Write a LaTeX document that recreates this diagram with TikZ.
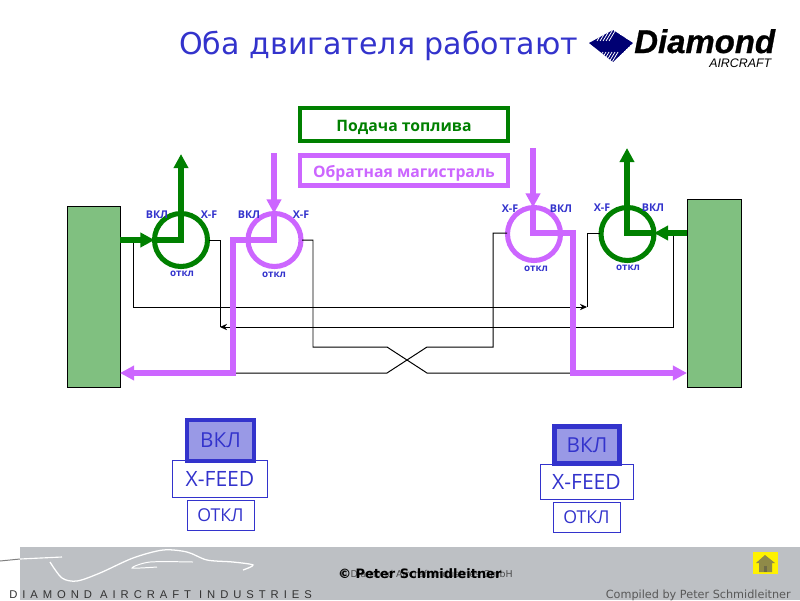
\documentclass[tikz,border=0pt]{standalone}
\usepackage{fontspec}
\setmainfont{Open Sans}
\newfontfamily\titlefont{DejaVu Sans}
\newfontfamily\logofont{Liberation Sans}
\newfontfamily\logoheavy[BoldItalicFeatures={FakeBold=0.8}]{Liberation Sans}
\newfontfamily\spacedfont[LetterSpace=44]{Liberation Sans}
\usetikzlibrary{arrows.meta}
\definecolor{fuelgreen}{RGB}{0,128,0}
\definecolor{returnpurple}{RGB}{204,102,255}
\definecolor{panelblue}{RGB}{51,51,204}
\definecolor{tankgreen}{RGB}{128,192,128}
\definecolor{footgray}{RGB}{189,192,196}
\tikzset{
  tank/.style={draw=black, fill=tankgreen, line width=0.7pt, inner sep=0pt, outer sep=0pt},
  legendbox/.style={draw=#1, line width=3.2pt, fill=white, text=#1, inner sep=0pt, outer sep=0pt,
    text height=11.5pt, text depth=1pt, font=\bfseries\fontsize{11.2}{13}\selectfont},
  valve/.style={circle, draw=#1, line width=3.6pt, minimum size=1.325cm, inner sep=0pt, outer sep=0pt},
  fuelpipe/.style={draw=#1, line width=3.6pt},
  pipetip/.style={-{Triangle[length=10pt,width=10pt]}},
  wire/.style={draw=black, line width=0.7pt},
  tag/.style={text=panelblue, inner sep=0pt, font=\bfseries\fontsize{7.6}{8}\selectfont},
  offtag/.style={text=panelblue, inner sep=0pt, font=\bfseries\fontsize{7}{8}\selectfont},
  switchbox/.style={draw=panelblue, line width=0.7pt, fill=white, text=panelblue, inner sep=0pt, outer sep=0pt},
  onbox/.style={switchbox, line width=3pt, fill=panelblue!50!white}
}
\begin{document}
\begin{tikzpicture}[x=0.025cm, y=-0.025cm, >={Stealth[length=5pt,width=4.5pt]}]
  \useasboundingbox (0,0) rectangle (800,600);
  % footer
  \fill[footgray] (20,547) rectangle (800,600);
  \draw[gray, line width=0.7pt] (0,561) -- (20,559);
  \draw[white, line width=0.8pt] (20,559) -- (62,557);
  \draw[white, line width=0.9pt] plot[smooth] coordinates {(50,562) (62,578) (77,581) (100,573) (133,558) (163,550) (187,552) (207,560) (233,562) (253,565) (243,570)};
  \draw[white, line width=0.7pt] plot[smooth] coordinates {(193,562) (150,562) (132,568) (157,567)};
  \node[anchor=base west, inner sep=0pt, text=black!80] (footbrand) at (9,598) {\spacedfont\fontsize{8}{9}\selectfont DIAMOND AIRCRAFT INDUSTRIES};
  \node[anchor=base east, inner sep=0pt, text=black!65] (compiled) at (791,598) {\titlefont\fontsize{8}{9}\selectfont Compiled by Peter Schmidleitner};
  \node[anchor=base west, inner sep=0pt, text=black!70] (footcompany) at (338,577) {\titlefont\fontsize{6.7}{9}\selectfont © Diamond Aircraft Industries GmbH};
  \node[anchor=base west, inner sep=0pt] (footauthor) at (338,578) {\titlefont\bfseries\fontsize{9.2}{11}\selectfont © Peter Schmidleitner};
  % home button
  \fill[yellow] (753,552) rectangle (778,574);
  \fill[black!50!yellow] (765,555) -- (775,563) -- (772,563) -- (772,572) -- (759,572) -- (759,563) -- (756,563) -- cycle;
  \fill[black!65!yellow] (764,566) rectangle (767,572);
  % title and logo
  \node[anchor=base west, inner sep=0pt, text=panelblue] (title) at (179,54) {\titlefont\fontsize{21.4}{25}\selectfont Оба двигателя работают};
  \begin{scope}
    \clip (589,43) -- (613,30) -- (633,43) -- (613,62) -- cycle;
    \fill[blue!45!black] (589,43) -- (613,30) -- (633,43) -- (613,62) -- cycle;
    \foreach \s in {597,600,...,609} \draw[white, line width=0.55pt] (\s,41) -- (\s+9,26);
    \foreach \s in {603,606,...,618} \draw[white, line width=0.55pt] (\s,52) -- (\s-12,72);
  \end{scope}
  \node[anchor=base west, inner sep=0pt] (logoname) at (634,53) {\logoheavy\bfseries\itshape\fontsize{23.4}{25}\selectfont Diamond};
  \node[anchor=base west, inner sep=0pt] (logosub) at (709,67) {\logofont\itshape\fontsize{8.8}{10}\selectfont AIRCRAFT};
  % tanks and legend
  \node[tank, minimum width=1.325cm, minimum height=4.5cm] (tankL) at (93.5,297) {};
  \node[tank, minimum width=1.35cm, minimum height=4.675cm] (tankR) at (714,293.5) {};
  \node[legendbox=fuelgreen, minimum width=5.2cm, minimum height=0.825cm] (legfuel) at (404,124.5) {Подача топлива};
  \node[legendbox=returnpurple, minimum width=5.2cm, minimum height=0.76cm] (legreturn) at (404,170.5) {Обратная магистраль};
  % valves
  \node[valve=fuelgreen] (valveA) at (181,240) {};
  \node[valve=returnpurple] (valveB) at (274.5,240) {};
  \node[valve=returnpurple] (valveC) at (534,234) {};
  \node[valve=fuelgreen] (valveD) at (627.5,234) {};
  \coordinate (upA) at (181,154);
  \coordinate (inB) at (274,153);
  \coordinate (inC) at (533,148);
  \coordinate (upD) at (627,148);
  \coordinate (bendB) at (233,240);
  \coordinate (bendC) at (573,233);
  \coordinate (feedL) at (233,373);
  \coordinate (feedR) at (573,373);
  \coordinate (hubB) at (274,240);
  \coordinate (hubC) at (533,233);
  \coordinate (hubD) at (627,233);
  % thin lines
  \coordinate (tapL) at (133,240);
  \coordinate (tapR) at (673,233);
  \coordinate (portA) at (209,240);
  \coordinate (portB) at (302,240);
  \coordinate (portC) at (507,233);
  \coordinate (portD) at (600,233);
  \draw[wire, ->] (tapL) -- (133,307) -- (587,307);
  \draw[wire] (portD) -- (587,233) -- (587,307);
  \draw[wire, ->] (tapR) -- (673,327) -- (220,327);
  \draw[wire] (portA) -- (220,240) -- (220,327);
  \draw[wire] (portB) -- (313,240) -- (313,347) -- (387,347) -- (427,373) -- (feedR);
  \draw[wire] (feedL) -- (387,373) -- (427,347) -- (493,347) -- (493,233) -- (portC);
  % fuel lines
  \draw[fuelpipe=fuelgreen, pipetip] (tankL.east |- valveA) -- (valveA.west);
  \draw[fuelpipe=fuelgreen, pipetip] (valveA.west) -- (181,240) -- (upA);
  \draw[fuelpipe=fuelgreen, pipetip] (tankR.west |- hubD) -- (valveD.east |- hubD);
  \draw[fuelpipe=fuelgreen, pipetip] (valveD.east |- hubD) -- (hubD) -- (upD);
  \draw[fuelpipe=returnpurple, pipetip] (inB) -- (valveB.north -| inB);
  \draw[fuelpipe=returnpurple, pipetip] (valveB.north -| inB) -- (hubB) -- (bendB) -- (feedL) -- (tankL.east |- feedL);
  \draw[fuelpipe=returnpurple, pipetip] (inC) -- (valveC.north -| inC);
  \draw[fuelpipe=returnpurple, pipetip] (valveC.north -| inC) -- (hubC) -- (bendC) -- (feedR) -- (tankR.west |- feedR);
  % valve labels
  \node[tag] (onA) at (157,215) {ВКЛ};
  \node[tag] (xfA) at (209,215) {X-F};
  \node[offtag] (offA) at (182,274) {откл};
  \node[tag] (onB) at (249,215) {ВКЛ};
  \node[tag] (xfB) at (301,215) {X-F};
  \node[offtag] (offB) at (274,275) {откл};
  \node[tag] (xfC) at (510,209) {X-F};
  \node[tag] (onC) at (561,209) {ВКЛ};
  \node[offtag] (offC) at (536,269) {откл};
  \node[tag] (xfD) at (602,208) {X-F};
  \node[tag] (onD) at (653,208) {ВКЛ};
  \node[offtag] (offD) at (628,268) {откл};
  % switch panels
  \node[switchbox, minimum width=2.35cm, minimum height=0.925cm, font=\fontsize{15}{17}\selectfont] (feedA) at (220,478.5) {X-FEED};
  \node[onbox, minimum width=1.675cm, minimum height=1.025cm, font=\fontsize{14.7}{17}\selectfont] (swonA) at (220.5,440.5) {ВКЛ};
  \node[switchbox, minimum width=1.675cm, minimum height=0.75cm, font=\fontsize{12.6}{15}\selectfont] (swoffA) at (220.5,515) {ОТКЛ};
  \node[switchbox, minimum width=2.325cm, minimum height=0.875cm, font=\fontsize{15}{17}\selectfont] (feedB) at (586.5,481.5) {X-FEED};
  \node[onbox, minimum width=1.625cm, minimum height=0.925cm, font=\fontsize{14.7}{17}\selectfont] (swonB) at (587,445) {ВКЛ};
  \node[switchbox, minimum width=1.675cm, minimum height=0.75cm, font=\fontsize{12.6}{15}\selectfont] (swoffB) at (586.5,517) {ОТКЛ};
\end{tikzpicture}
\end{document}
